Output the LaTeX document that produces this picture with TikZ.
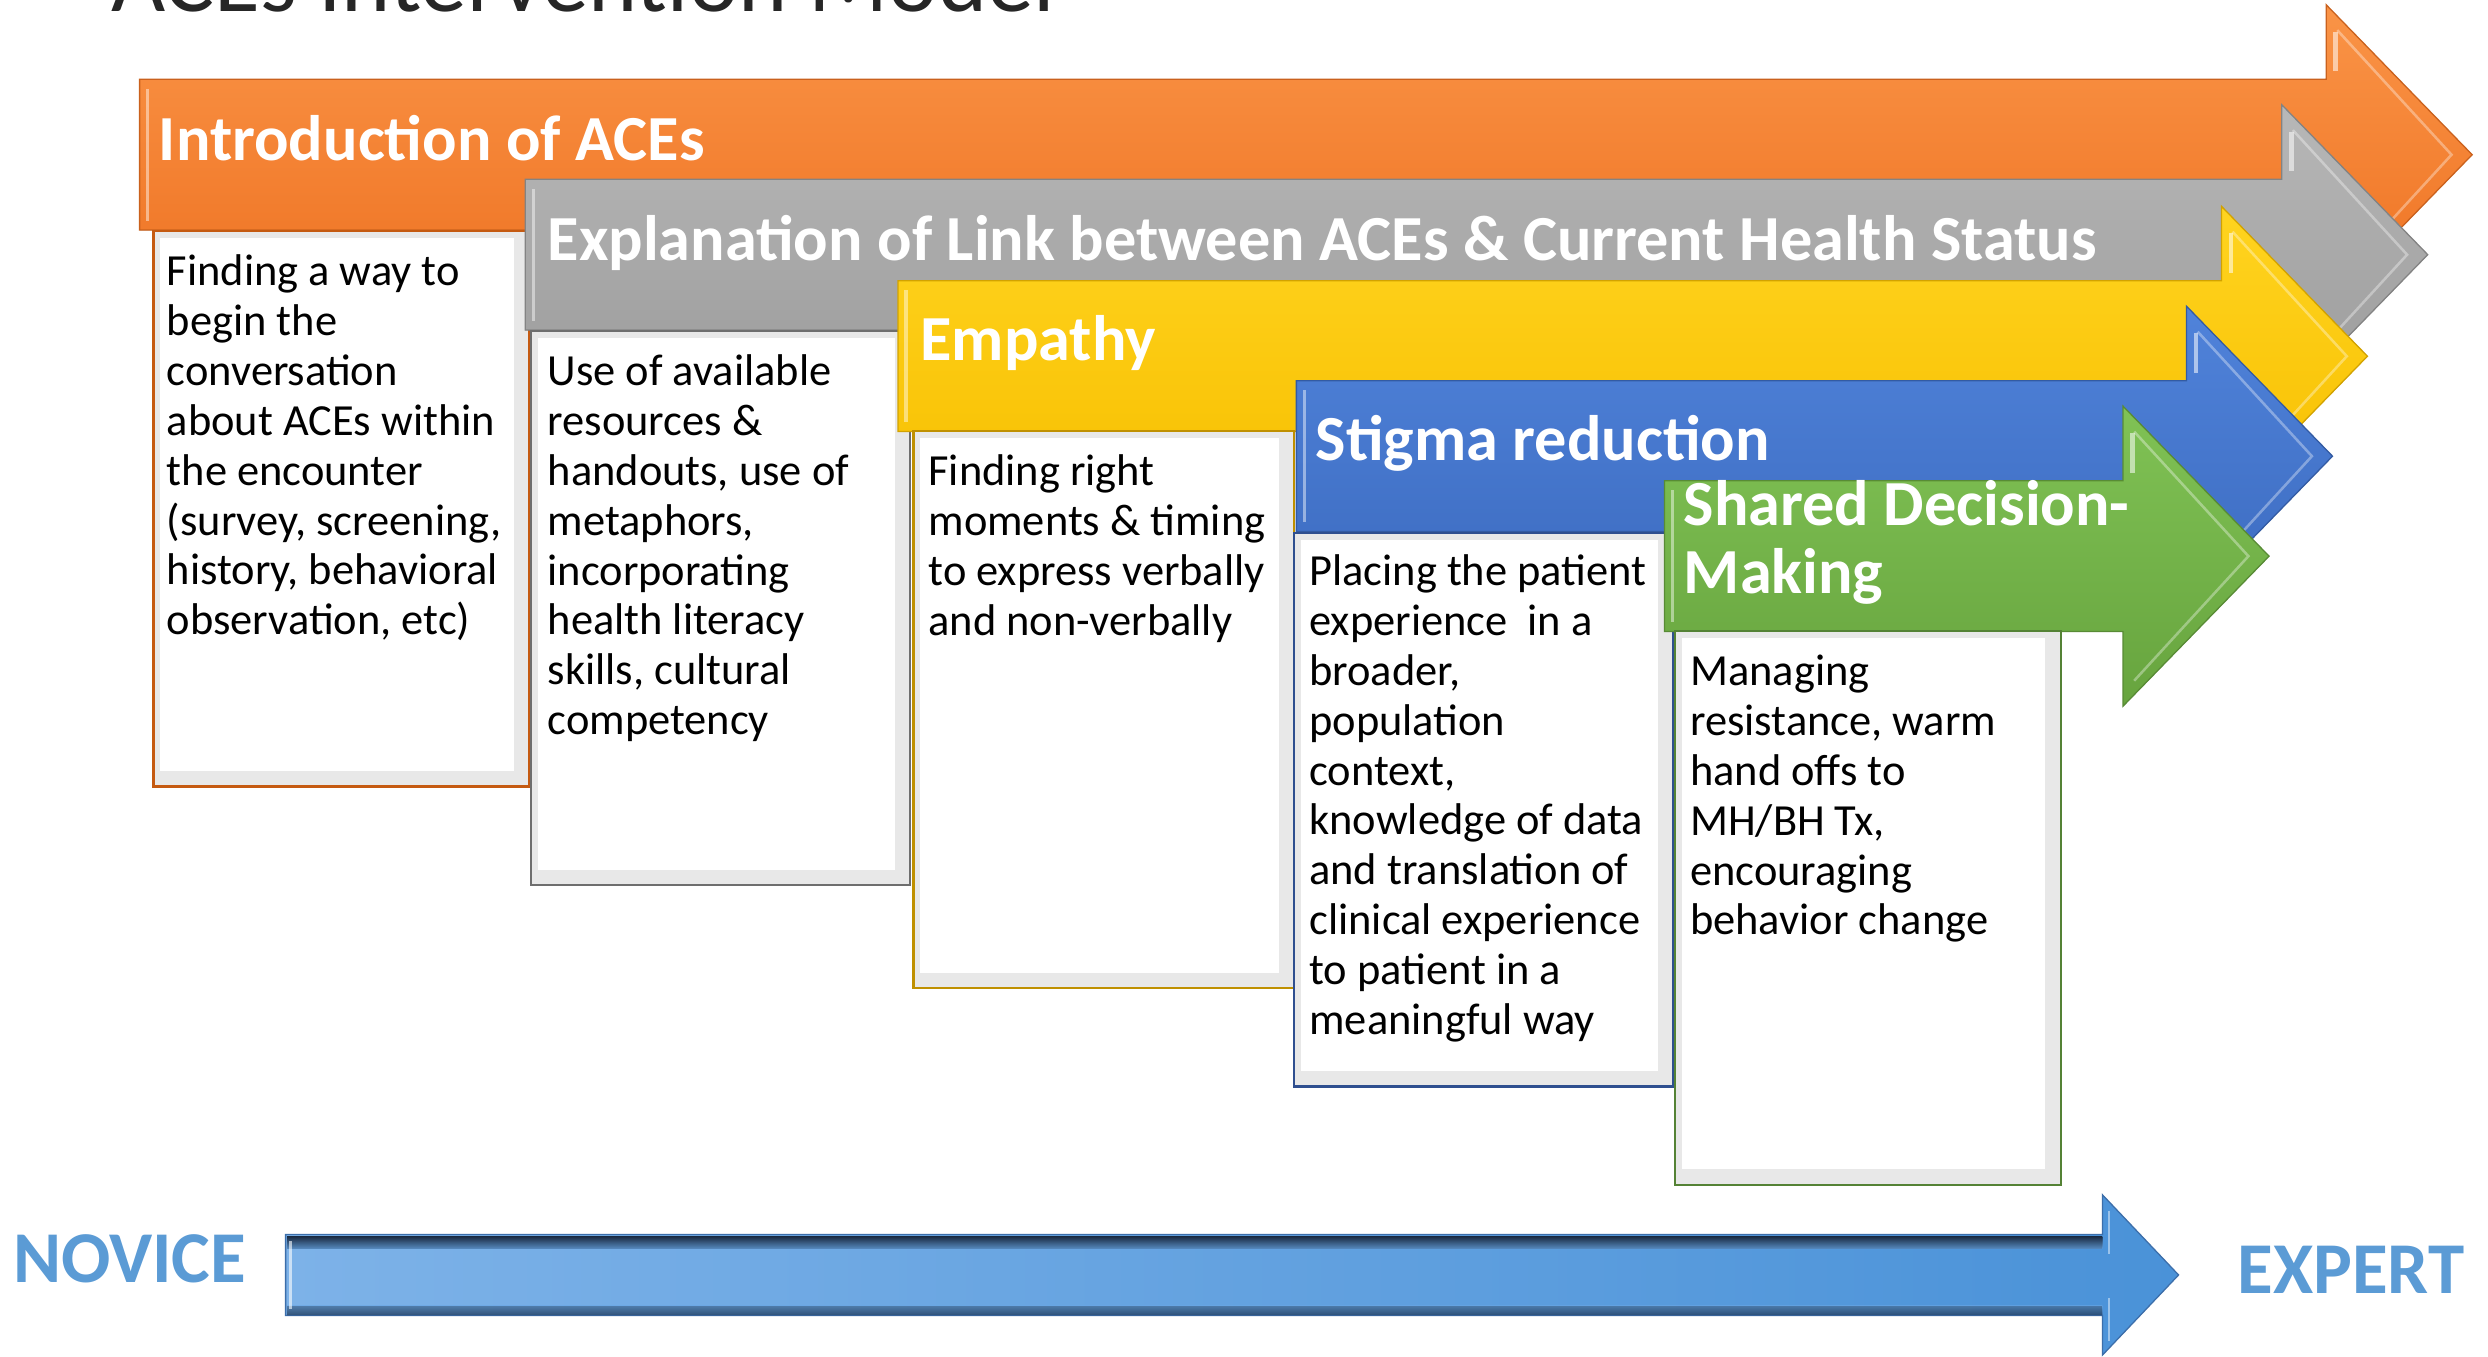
\documentclass[tikz,border=0pt]{standalone}
\usepackage{fontspec}
\setmainfont{Carlito}
\definecolor{orL}{HTML}{FA9447}\definecolor{orD}{HTML}{EE7222}\definecolor{orB}{HTML}{C55A11}
\definecolor{grL}{HTML}{B8B8B8}\definecolor{grD}{HTML}{9A9A9A}\definecolor{grB}{HTML}{6E6E6E}
\definecolor{yeL}{HTML}{FFD420}\definecolor{yeD}{HTML}{F7BF00}\definecolor{yeB}{HTML}{BF9000}
\definecolor{blL}{HTML}{5083DA}\definecolor{blD}{HTML}{3C6BC0}\definecolor{blB}{HTML}{2F4F8F}
\definecolor{gnL}{HTML}{80C255}\definecolor{gnD}{HTML}{67A43E}\definecolor{gnB}{HTML}{548235}
\definecolor{lblue}{HTML}{5B9BD5}
\definecolor{xaL}{HTML}{7DB2E8}\definecolor{xaR}{HTML}{4A92D8}\definecolor{xaB}{HTML}{3C6EAA}
\definecolor{xaDk}{HTML}{1C2D46}\definecolor{xaMd}{HTML}{64A0DE}\definecolor{xaBt}{HTML}{325A8C}
\newcommand\stagearrow[5]{% #1 left, #2 top, #3 neck x, #4 light, #5 dark
  \fill[top color=#4, bottom color=#5, draw=#5!85!black, line width=0.8pt]
    (#1,#2) -- (#3,#2) -- (#3,#2-47) -- (#3+92,#2+47.5) -- (#3,#2+142) -- (#3,#2+95) -- (#1,#2+95) -- cycle;
  \draw[white, opacity=0.45, line width=2pt] (#1+5,#2+6) -- (#1+5,#2+89);
  \draw[white, opacity=0.35, line width=1.6pt] (#3+7,#2-31) -- (#3+79,#2+47.5) -- (#3+7,#2+126);
  \draw[white, opacity=0.55, line width=3pt] (#3+6,#2-30) -- (#3+6,#2-5);
}
\newcommand\stagebox[6]{% #1 name, #2 x1, #3 y1, #4 x2, #5 y2, #6 border colour
  \node[draw=#6, line width=1.4pt, fill=black!9, inner sep=0, anchor=north west,
        minimum width={#4-#2}, minimum height={#5-#3}] (#1) at (#2,#3) {};
  \fill[white] (#2+5,#3+5) rectangle (#4-9,#5-9);
}
\begin{document}
\begin{tikzpicture}[x=1pt,y=-1pt,
  hdr/.style={anchor=base west, inner sep=0, text=white, font=\bfseries\fontsize{40.5}{43}\selectfont},
  body/.style={anchor=north west, inner sep=0, align=left, text=black, font=\fontsize{28}{31.4}\selectfont},
  lbl/.style={anchor=base west, inner sep=0, text=lblue, font=\bfseries\fontsize{46}{48}\selectfont}]
\clip (0,0) rectangle (1568,855);
\fill[white] (0,0) rectangle (1568,855);
\node[anchor=base west, inner sep=0, text=black!85, font=\fontsize{59}{60}\selectfont] (title) at (70,7) {ACEs Intervention Model};

% stage 1
\stagearrow{88}{50}{1466}{orL}{orD}
\node[hdr] (h1) at (100,101) {Introduction of ACEs};
\stagebox{b1}{96}{145}{333}{495}{orB}
\node[body] (t1) at (105,158) {\strut Finding a way to\\begin the\\conversation\\about ACEs within\\the encounter\\(survey, screening,\\history, behavioral\\observation, etc)};

% stage 2
\stagearrow{331}{113}{1438}{grL}{grD}
\node[hdr] (h2) at (345,164) {Explanation of Link between ACEs \& Current Health Status};
\stagebox{b2}{334}{208}{573}{557}{grB}
\node[body] (t2) at (345,221) {\strut Use of available\\resources \&\\handouts, use of\\metaphors,\\incorporating\\health literacy\\skills, cultural\\competency};

% stage 3
\stagearrow{566}{177}{1400}{yeL}{yeD}
\node[hdr] (h3) at (580,227) {Empathy};
\stagebox{b3}{575}{271}{815}{622}{yeB}
\node[body] (t3) at (585,284) {\strut Finding right\\moments \& timing\\to express verbally\\and non-verbally};

% stage 4
\stagearrow{817}{240}{1378}{blL}{blD}
\node[hdr] (h4) at (829,290) {Stigma reduction};
\stagebox{b4}{815}{335}{1054}{684}{blB}
\node[body] (t4) at (825,347) {\strut Placing the patient\\experience\ \ in a\\broader,\\population\\context,\\knowledge of data\\and translation of\\clinical experience\\to patient in a\\meaningful way};

% stage 5
\stagearrow{1049}{303}{1338}{gnL}{gnD}
\node[hdr, anchor=north west, align=left] (h5) at (1061,301) {\strut Shared Decision-\\Making};
\stagebox{b5}{1055}{397}{1298}{746}{gnB}
\node[body] (t5) at (1065,410) {\strut Managing\\resistance, warm\\hand offs to\\MH/BH Tx,\\encouraging\\behavior change};

% novice -> expert arrow
\fill[left color=xaL, right color=xaR, draw=xaB, line width=0.8pt]
  (180,778) -- (1325,778) -- (1325,753) -- (1373,803.5) -- (1325,854) -- (1325,829) -- (180,829) -- cycle;
\fill[top color=xaDk, bottom color=xaMd, opacity=0.85] (181,779) rectangle (1325,787);
\fill[top color=xaMd, bottom color=xaBt, opacity=0.6] (181,823) rectangle (1325,829);
\draw[white, opacity=0.6, line width=2pt] (183,782) -- (183,825);
\draw[white, opacity=0.45, line width=1.6pt] (1329,763) -- (1329,790);
\draw[white, opacity=0.45, line width=1.6pt] (1329,818) -- (1329,845);
\node[lbl] (novice) at (8,808) {NOVICE};
\node[lbl] (expert) at (1410,815) {EXPERT};
\end{tikzpicture}
\end{document}
